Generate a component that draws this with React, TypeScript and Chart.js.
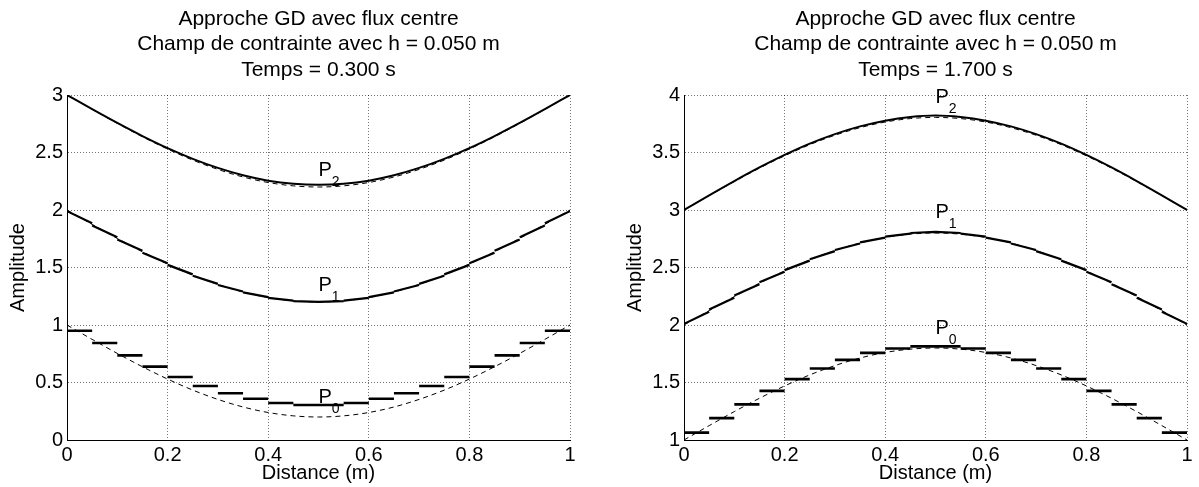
import React, { useEffect, useRef } from 'react';
import { Chart, registerables } from 'chart.js';

Chart.register(...registerables);

const FONT = '"Liberation Sans", Arial, Helvetica, sans-serif';

// ---- shared axes data ----
const xNodes = [0, 0.05, 0.1, 0.15, 0.2, 0.25, 0.3, 0.35, 0.4, 0.45, 0.5, 0.55, 0.6, 0.65, 0.7, 0.75, 0.8, 0.85, 0.9, 0.95, 1];
const xTickValues = [0, 0.2, 0.4, 0.6, 0.8, 1];
const xTickLabels = ['0', '0.2', '0.4', '0.6', '0.8', '1'];
const xTitle = 'Distance (m)';
const yTitle = 'Amplitude';

// ---- left panel (t = 0.300 s) ----
const titleA = ['Approche GD avec flux centre', 'Champ de contrainte avec h = 0.050 m', 'Temps = 0.300 s'];
const yTickValuesA = [0, 0.5, 1, 1.5, 2, 2.5, 3];
const yTickLabelsA = ['0', '0.5', '1', '1.5', '2', '2.5', '3'];
const exactP0A = [1.0, 0.875, 0.753, 0.637, 0.53, 0.434, 0.353, 0.287, 0.239, 0.21, 0.2, 0.21, 0.239, 0.287, 0.353, 0.434, 0.53, 0.637, 0.753, 0.875, 1.0];
const exactP1A = [2.0, 1.875, 1.753, 1.637, 1.53, 1.434, 1.353, 1.287, 1.239, 1.21, 1.2, 1.21, 1.239, 1.287, 1.353, 1.434, 1.53, 1.637, 1.753, 1.875, 2.0];
const exactP2A = [3.0, 2.875, 2.753, 2.637, 2.53, 2.434, 2.353, 2.287, 2.239, 2.21, 2.2, 2.21, 2.239, 2.287, 2.353, 2.434, 2.53, 2.637, 2.753, 2.875, 3.0];
const p2A = [3.0, 2.877, 2.757, 2.643, 2.538, 2.445, 2.366, 2.302, 2.255, 2.228, 2.219, 2.228, 2.255, 2.302, 2.366, 2.445, 2.538, 2.643, 2.757, 2.877, 3.0];
const p1LeftA = [1.99, 1.865, 1.744, 1.629, 1.523, 1.428, 1.348, 1.283, 1.236, 1.208, 1.201, 1.212, 1.242, 1.291, 1.358, 1.44, 1.537, 1.645, 1.762, 1.885];
const p1RightA = [1.885, 1.762, 1.645, 1.537, 1.44, 1.358, 1.291, 1.242, 1.212, 1.201, 1.208, 1.236, 1.283, 1.348, 1.428, 1.523, 1.629, 1.744, 1.865, 1.99];
const p0A = [0.95, 0.843, 0.736, 0.638, 0.548, 0.47, 0.406, 0.359, 0.322, 0.304, 0.304, 0.322, 0.359, 0.406, 0.47, 0.548, 0.638, 0.736, 0.843, 0.95];
const labelSubA = ['2', '1', '0'];
const labelXA = [0.5, 0.5, 0.5];
const labelYA = [2.3, 1.3, 0.32];

// ---- right panel (t = 1.700 s) ----
const titleB = ['Approche GD avec flux centre', 'Champ de contrainte avec h = 0.050 m', 'Temps = 1.700 s'];
const yTickValuesB = [1, 1.5, 2, 2.5, 3, 3.5, 4];
const yTickLabelsB = ['1', '1.5', '2', '2.5', '3', '3.5', '4'];
const exactP0B = [1.0, 1.125, 1.247, 1.363, 1.47, 1.566, 1.647, 1.713, 1.761, 1.79, 1.8, 1.79, 1.761, 1.713, 1.647, 1.566, 1.47, 1.363, 1.247, 1.125, 1.0];
const exactP1B = [2.0, 2.125, 2.247, 2.363, 2.47, 2.566, 2.647, 2.713, 2.761, 2.79, 2.8, 2.79, 2.761, 2.713, 2.647, 2.566, 2.47, 2.363, 2.247, 2.125, 2.0];
const exactP2B = [3.0, 3.125, 3.247, 3.364, 3.471, 3.568, 3.65, 3.716, 3.765, 3.795, 3.805, 3.795, 3.765, 3.716, 3.65, 3.568, 3.471, 3.364, 3.247, 3.125, 3.0];
const p2B = [3.0, 3.128, 3.252, 3.37, 3.479, 3.577, 3.66, 3.727, 3.777, 3.809, 3.822, 3.809, 3.777, 3.727, 3.66, 3.577, 3.479, 3.37, 3.252, 3.128, 3.0];
const p1LeftB = [2.01, 2.135, 2.256, 2.371, 2.477, 2.572, 2.652, 2.719, 2.768, 2.8, 2.81, 2.795, 2.76, 2.709, 2.642, 2.56, 2.463, 2.355, 2.238, 2.115];
const p1RightB = [2.115, 2.238, 2.355, 2.463, 2.56, 2.642, 2.709, 2.76, 2.795, 2.81, 2.8, 2.768, 2.719, 2.652, 2.572, 2.477, 2.371, 2.256, 2.135, 2.01];
const p0B = [1.064, 1.19, 1.31, 1.427, 1.529, 1.622, 1.697, 1.758, 1.796, 1.814, 1.814, 1.796, 1.758, 1.697, 1.622, 1.529, 1.427, 1.31, 1.19, 1.064];
const labelSubB = ['2', '1', '0'];
const labelXB = [0.5, 0.5, 0.5];
const labelYB = [3.93, 2.93, 1.92];

type Pt = { x: number; y: number | null };

function curve(vals: number[]): Pt[] {
  return vals.map((v, i) => ({ x: xNodes[i], y: v }));
}
function steps(vals: number[]): Pt[] {
  const pts: Pt[] = [];
  vals.forEach((v, i) => {
    pts.push({ x: xNodes[i], y: v }, { x: xNodes[i + 1], y: v }, { x: xNodes[i + 1], y: null });
  });
  return pts;
}
function linear(L: number[], R: number[]): Pt[] {
  const pts: Pt[] = [];
  L.forEach((v, i) => {
    pts.push({ x: xNodes[i], y: v }, { x: xNodes[i + 1], y: R[i] }, { x: xNodes[i + 1], y: null });
  });
  return pts;
}

const subLabelPlugin = {
  id: 'subLabels',
  afterDatasetsDraw(chart: any, _args: any, opts: any) {
    const { ctx } = chart;
    const xs = chart.scales.x;
    const ys = chart.scales.y;
    ctx.save();
    ctx.fillStyle = '#000';
    ctx.textAlign = 'left';
    ctx.textBaseline = 'alphabetic';
    (opts.items || []).forEach((it: any) => {
      const px = xs.getPixelForValue(it.x);
      const py = ys.getPixelForValue(it.y);
      ctx.font = `20px ${FONT}`;
      ctx.fillText('P', px, py);
      const w = ctx.measureText('P').width;
      ctx.font = `14px ${FONT}`;
      ctx.fillText(it.sub, px + w, py + 10);
    });
    ctx.restore();
  },
};

interface Panel {
  title: string[];
  yTickValues: number[];
  yTickLabels: string[];
  exact: number[][];
  p2: number[];
  p1L: number[];
  p1R: number[];
  p0: number[];
  subs: string[];
  lx: number[];
  ly: number[];
  padRight: number;
}

function makeConfig(p: Panel): any {
  const solid = { borderColor: '#000', pointRadius: 0, fill: false, spanGaps: false };
  const dashed = {
    borderColor: '#000',
    borderWidth: 1,
    borderDash: [5, 4],
    pointRadius: 0,
    fill: false,
    cubicInterpolationMode: 'monotone',
  };
  const minY = p.yTickValues[0];
  const maxY = p.yTickValues[p.yTickValues.length - 1];
  return {
    type: 'line',
    data: {
      datasets: [
        { ...solid, data: curve(p.p2), borderWidth: 2, cubicInterpolationMode: 'monotone' },
        { ...solid, data: linear(p.p1L, p.p1R), borderWidth: 2.2, tension: 0 },
        { ...solid, data: steps(p.p0), borderWidth: 2.6, tension: 0 },
        { ...dashed, data: curve(p.exact[2]) },
        { ...dashed, data: curve(p.exact[1]) },
        { ...dashed, data: curve(p.exact[0]) },
      ],
    },
    options: {
      animation: false,
      responsive: false,
      devicePixelRatio: 1,
      events: [],
      layout: { padding: { left: 0, right: p.padRight, top: 0, bottom: 0 } },
      plugins: {
        legend: { display: false },
        tooltip: { enabled: false },
        title: {
          display: true,
          text: p.title,
          fullSize: false,
          color: '#000',
          font: { family: FONT, size: 21, weight: 'normal', lineHeight: 1.2 },
          padding: { top: 6.8, bottom: 12.6 },
        },
        subLabels: {
          items: p.subs.map((s, i) => ({ sub: s, x: p.lx[i], y: p.ly[i] })),
        },
      },
      scales: {
        x: {
          type: 'linear',
          min: 0,
          max: 1,
          afterFit(scale: any) {
            scale.height = 47;
          },
          afterBuildTicks(scale: any) {
            scale.ticks = xTickValues.map((v) => ({ value: v }));
          },
          ticks: {
            color: '#000',
            padding: 3,
            maxRotation: 0,
            autoSkip: false,
            font: { family: FONT, size: 20, lineHeight: 1.2 },
            callback: (_v: any, i: number) => xTickLabels[i],
          },
          grid: { color: 'rgba(0,0,0,0.55)', lineWidth: 1, drawTicks: false },
          border: { display: true, color: '#000', width: 1, dash: [1, 2] },
          title: {
            display: true,
            text: xTitle,
            color: '#000',
            font: { family: FONT, size: 20, lineHeight: 1.2 },
            padding: { top: 0, bottom: 1.5 },
          },
        },
        y: {
          type: 'linear',
          min: minY,
          max: maxY,
          afterFit(scale: any) {
            scale.width = 67;
          },
          afterBuildTicks(scale: any) {
            scale.ticks = p.yTickValues.map((v) => ({ value: v }));
          },
          ticks: {
            color: '#000',
            padding: 4,
            autoSkip: false,
            font: { family: FONT, size: 20, lineHeight: 1.2 },
            callback: (_v: any, i: number) => p.yTickLabels[i],
          },
          grid: { color: 'rgba(0,0,0,0.55)', lineWidth: 1, drawTicks: false },
          border: { display: true, color: '#000', width: 1, dash: [1, 2] },
          title: {
            display: true,
            text: yTitle,
            color: '#000',
            font: { family: FONT, size: 20, lineHeight: 1.2 },
            padding: { top: 6.5, bottom: 0 },
          },
        },
      },
    },
    plugins: [subLabelPlugin],
  };
}

const panelA: Panel = {
  title: titleA,
  yTickValues: yTickValuesA,
  yTickLabels: yTickLabelsA,
  exact: [exactP0A, exactP1A, exactP2A],
  p2: p2A,
  p1L: p1LeftA,
  p1R: p1RightA,
  p0: p0A,
  subs: labelSubA,
  lx: labelXA,
  ly: labelYA,
  padRight: 30,
};

const panelB: Panel = {
  title: titleB,
  yTickValues: yTickValuesB,
  yTickLabels: yTickLabelsB,
  exact: [exactP0B, exactP1B, exactP2B],
  p2: p2B,
  p1L: p1LeftB,
  p1R: p1RightB,
  p0: p0B,
  subs: labelSubB,
  lx: labelXB,
  ly: labelYB,
  padRight: 12,
};

function PanelChart({ panel, left, width }: { panel: Panel; left: number; width: number }) {
  const ref = useRef<HTMLCanvasElement | null>(null);
  useEffect(() => {
    if (!ref.current) return;
    const chart = new Chart(ref.current, makeConfig(panel));
    return () => chart.destroy();
  }, [panel]);
  return (
    <div style={{ position: 'absolute', left, top: 0, width, height: 487 }}>
      <canvas ref={ref} width={width} height={487} style={{ display: 'block', width, height: 487 }} />
    </div>
  );
}

export default function App() {
  return (
    <div style={{ position: 'fixed', left: 0, top: 0, width: 1199, height: 487, background: '#fff', overflow: 'hidden' }}>
      <PanelChart panel={panelA} left={0} width={600} />
      <PanelChart panel={panelB} left={617} width={582} />
    </div>
  );
}
